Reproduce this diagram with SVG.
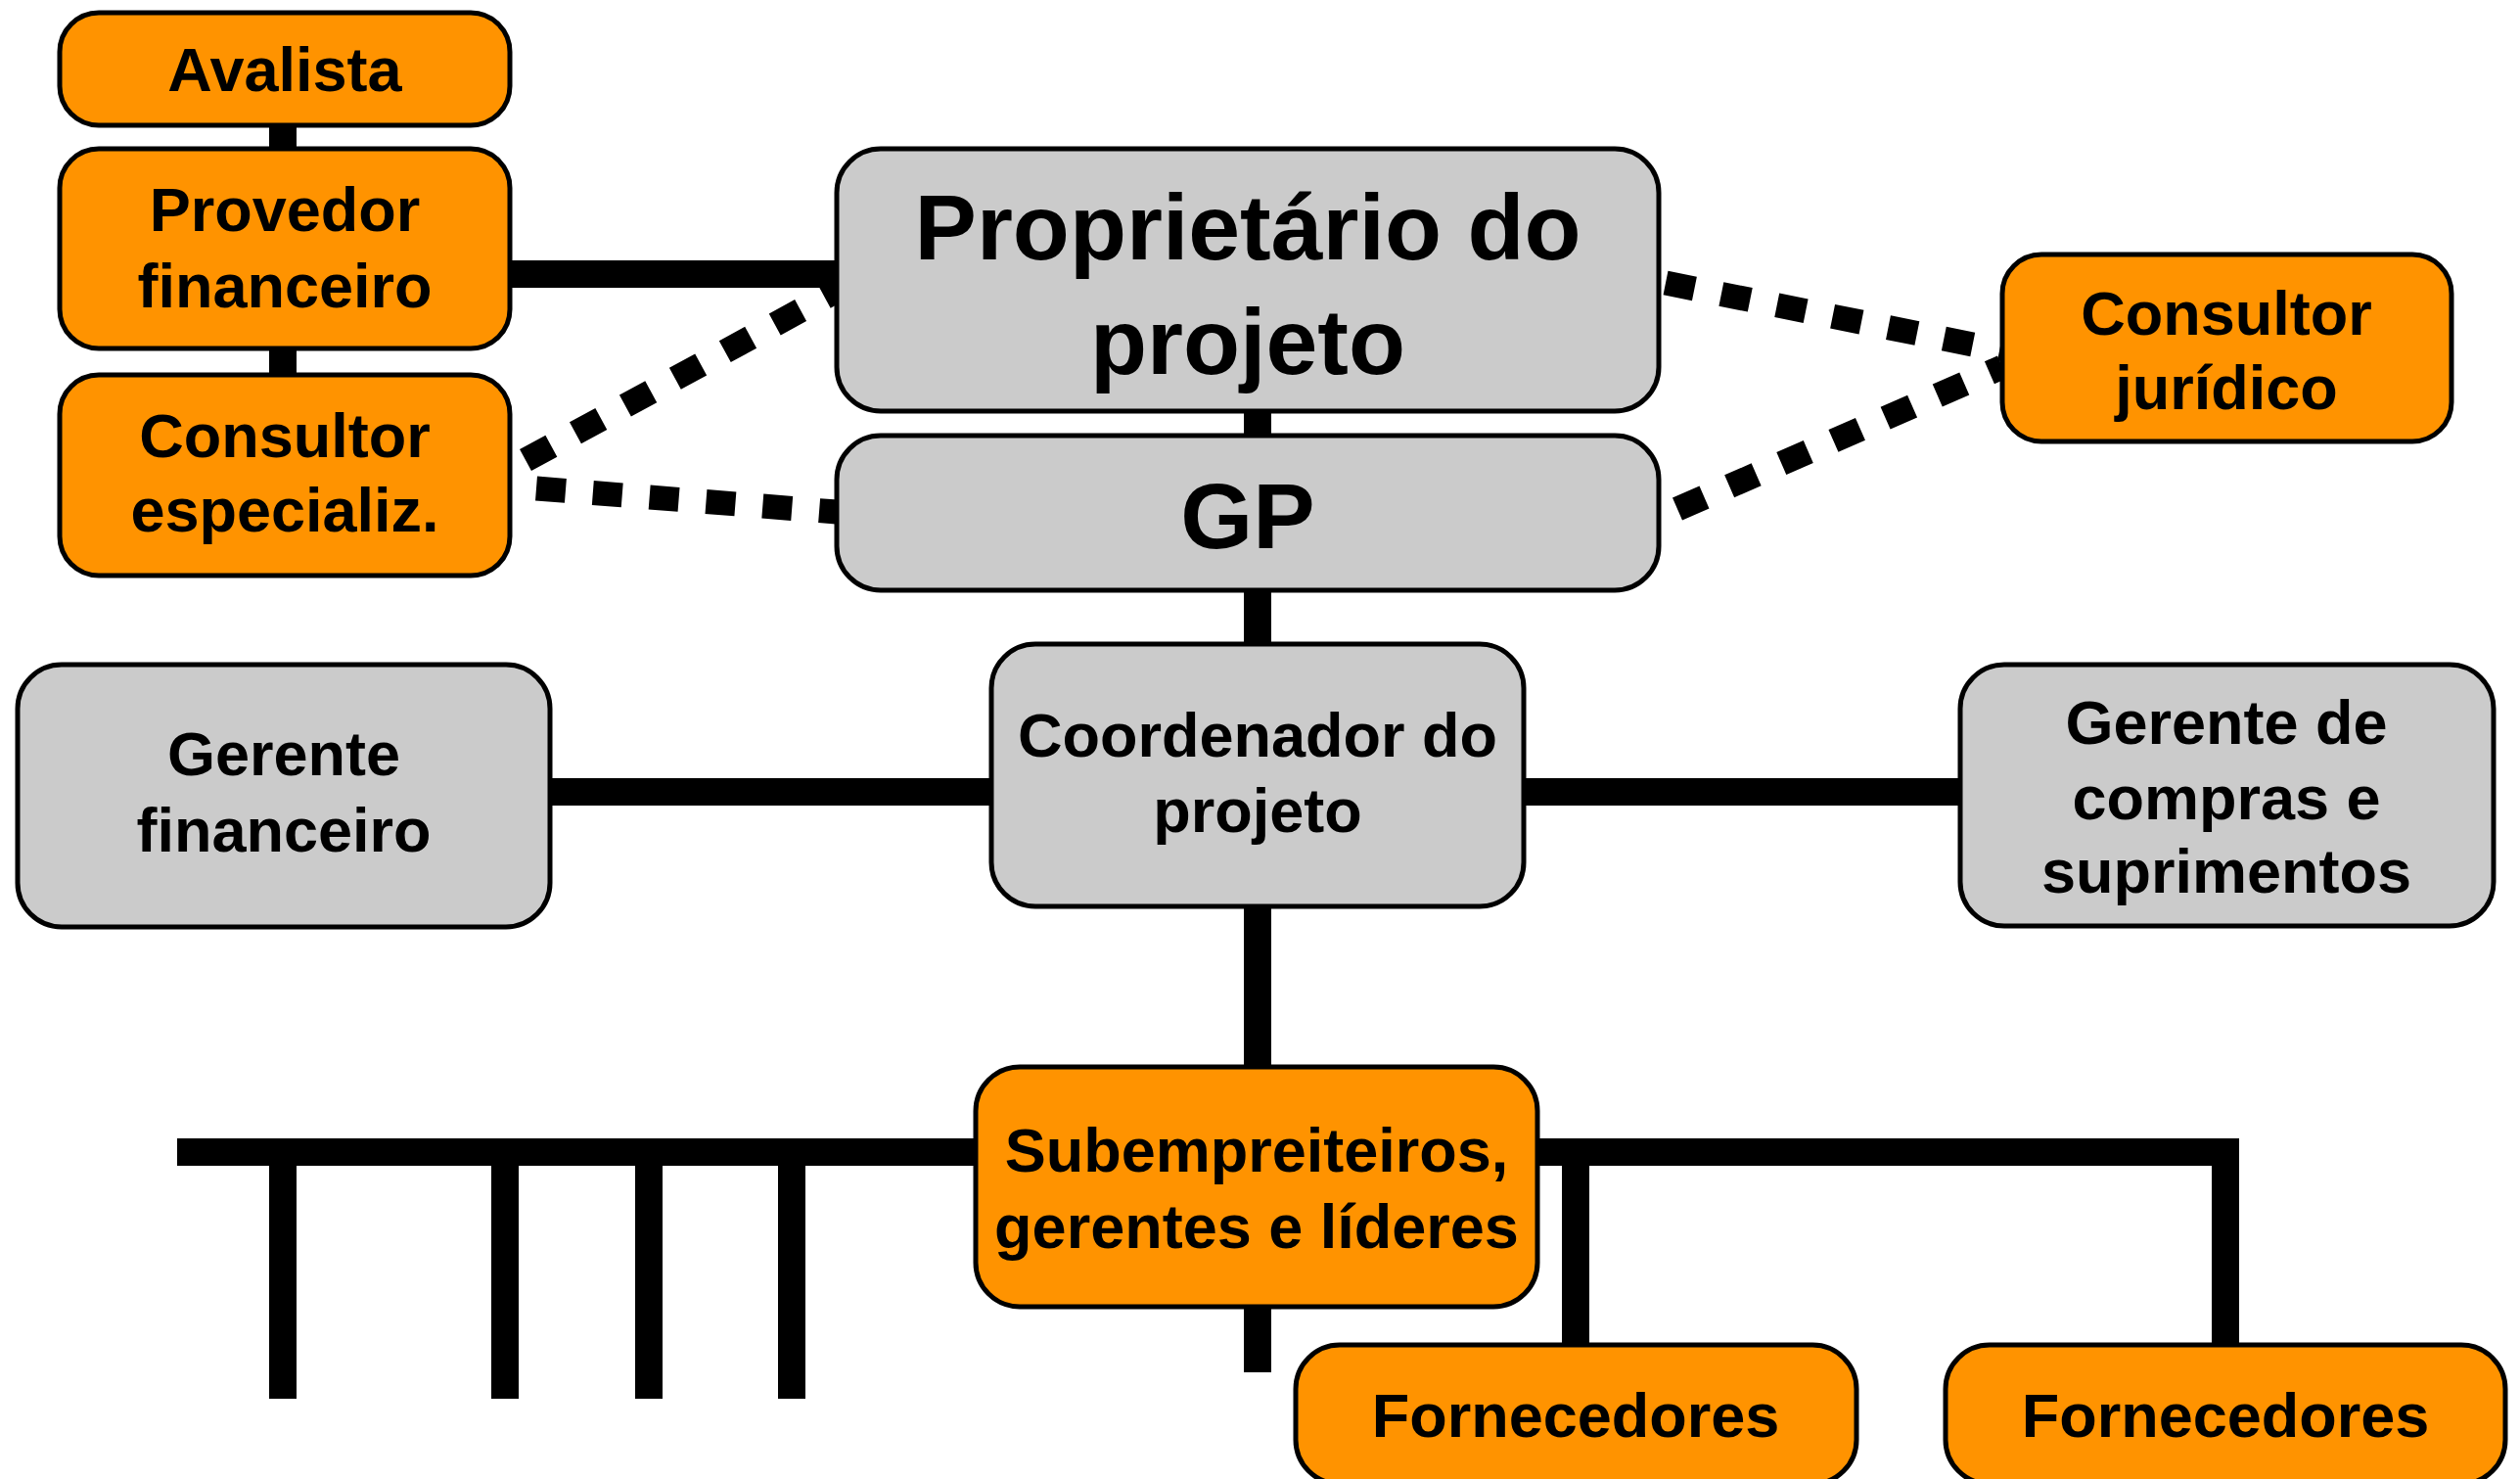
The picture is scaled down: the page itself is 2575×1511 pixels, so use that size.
<svg xmlns="http://www.w3.org/2000/svg" width="2575" height="1511" viewBox="0 0 2575 1511">
<style>
.o{fill:#ff9300;stroke:#000;stroke-width:5}
.g{fill:#cbcbcb;stroke:#000;stroke-width:5}
.t{font-family:"Liberation Sans",Arial,Helvetica,sans-serif;font-weight:bold;font-size:63px;fill:#000;text-anchor:middle}
.big{font-size:95px}
.s{fill:none;stroke:#000;stroke-width:28;stroke-linejoin:miter;stroke-linecap:butt}
.d{fill:none;stroke:#000;stroke-width:25;stroke-dasharray:30 28}
</style>
<rect width="2575" height="1511" fill="#fff"/>
<g id="connectors">
<line class="s" x1="289" y1="126" x2="289" y2="154"/>
<line class="s" x1="289" y1="354" x2="289" y2="385"/>
<line class="s" x1="519" y1="280" x2="857" y2="280"/>
<line class="s" x1="1285" y1="418" x2="1285" y2="447"/>
<line class="s" x1="1285" y1="601" x2="1285" y2="660"/>
<line class="s" x1="560" y1="809" x2="1015" y2="809"/>
<line class="s" x1="1555" y1="809" x2="2005" y2="809"/>
<line class="s" x1="1285" y1="924" x2="1285" y2="1092"/>
<line class="s" x1="1285" y1="1333" x2="1285" y2="1402"/>
<line class="s" x1="181" y1="1177" x2="999" y2="1177"/>
<line class="s" x1="289" y1="1177" x2="289" y2="1429"/>
<line class="s" x1="516" y1="1177" x2="516" y2="1429"/>
<line class="s" x1="663" y1="1177" x2="663" y2="1429"/>
<line class="s" x1="809" y1="1177" x2="809" y2="1429"/>
<polyline class="s" points="1569,1177 2274,1177 2274,1376"/>
<line class="s" x1="1610" y1="1177" x2="1610" y2="1376"/>
<line class="d" x1="537" y1="470" x2="855" y2="297"/>
<line class="d" x1="548" y1="499" x2="855" y2="523"/>
<line class="d" x1="1702" y1="289" x2="2046" y2="358"/>
<line class="d" x1="1714" y1="520" x2="2046" y2="375"/>
</g>
<g id="avalista">
<rect class="o" x="61" y="13" width="460" height="115" rx="40"/>
<text class="t" x="291" y="93">Avalista</text>
</g>
<g id="provedor-financeiro">
<rect class="o" x="61" y="152" width="460" height="204" rx="40"/>
<text class="t" x="291" y="236">Provedor</text>
<text class="t" x="291" y="314">financeiro</text>
</g>
<g id="consultor-especializ">
<rect class="o" x="61" y="383" width="460" height="205" rx="40"/>
<text class="t" x="291" y="467">Consultor</text>
<text class="t" x="291" y="543">especializ.</text>
</g>
<g id="proprietario">
<rect class="g" x="855" y="152" width="840" height="268" rx="45"/>
<text class="t big" x="1275" y="265">Proprietário do</text>
<text class="t big" x="1275" y="382">projeto</text>
</g>
<g id="gp">
<rect class="g" x="855" y="445" width="840" height="158" rx="45"/>
<text class="t big" x="1275" y="560">GP</text>
</g>
<g id="consultor-juridico">
<rect class="o" x="2046" y="260" width="459" height="191" rx="40"/>
<text class="t" x="2275" y="342">Consultor</text>
<text class="t" x="2275" y="418">jurídico</text>
</g>
<g id="gerente-financeiro">
<rect class="g" x="18" y="679" width="544" height="268" rx="45"/>
<text class="t" x="290" y="792">Gerente</text>
<text class="t" x="290" y="870">financeiro</text>
</g>
<g id="coordenador">
<rect class="g" x="1013" y="658" width="544" height="268" rx="45"/>
<text class="t" x="1285" y="773">Coordenador do</text>
<text class="t" x="1285" y="850">projeto</text>
</g>
<g id="gerente-compras">
<rect class="g" x="2003" y="679" width="545" height="267" rx="45"/>
<text class="t" x="2275" y="760">Gerente de</text>
<text class="t" x="2275" y="837">compras e</text>
<text class="t" x="2275" y="912">suprimentos</text>
</g>
<g id="subempreiteiros">
<rect class="o" x="997" y="1090" width="574" height="245" rx="45"/>
<text class="t" x="1284" y="1197">Subempreiteiros,</text>
<text class="t" x="1284" y="1275">gerentes e líderes</text>
</g>
<g id="fornecedores-1">
<rect class="o" x="1324" y="1374" width="573" height="142" rx="45"/>
<text class="t" x="1610" y="1468">Fornecedores</text>
</g>
<g id="fornecedores-2">
<rect class="o" x="1988" y="1374" width="572" height="142" rx="45"/>
<text class="t" x="2274" y="1468">Fornecedores</text>
</g>
</svg>
